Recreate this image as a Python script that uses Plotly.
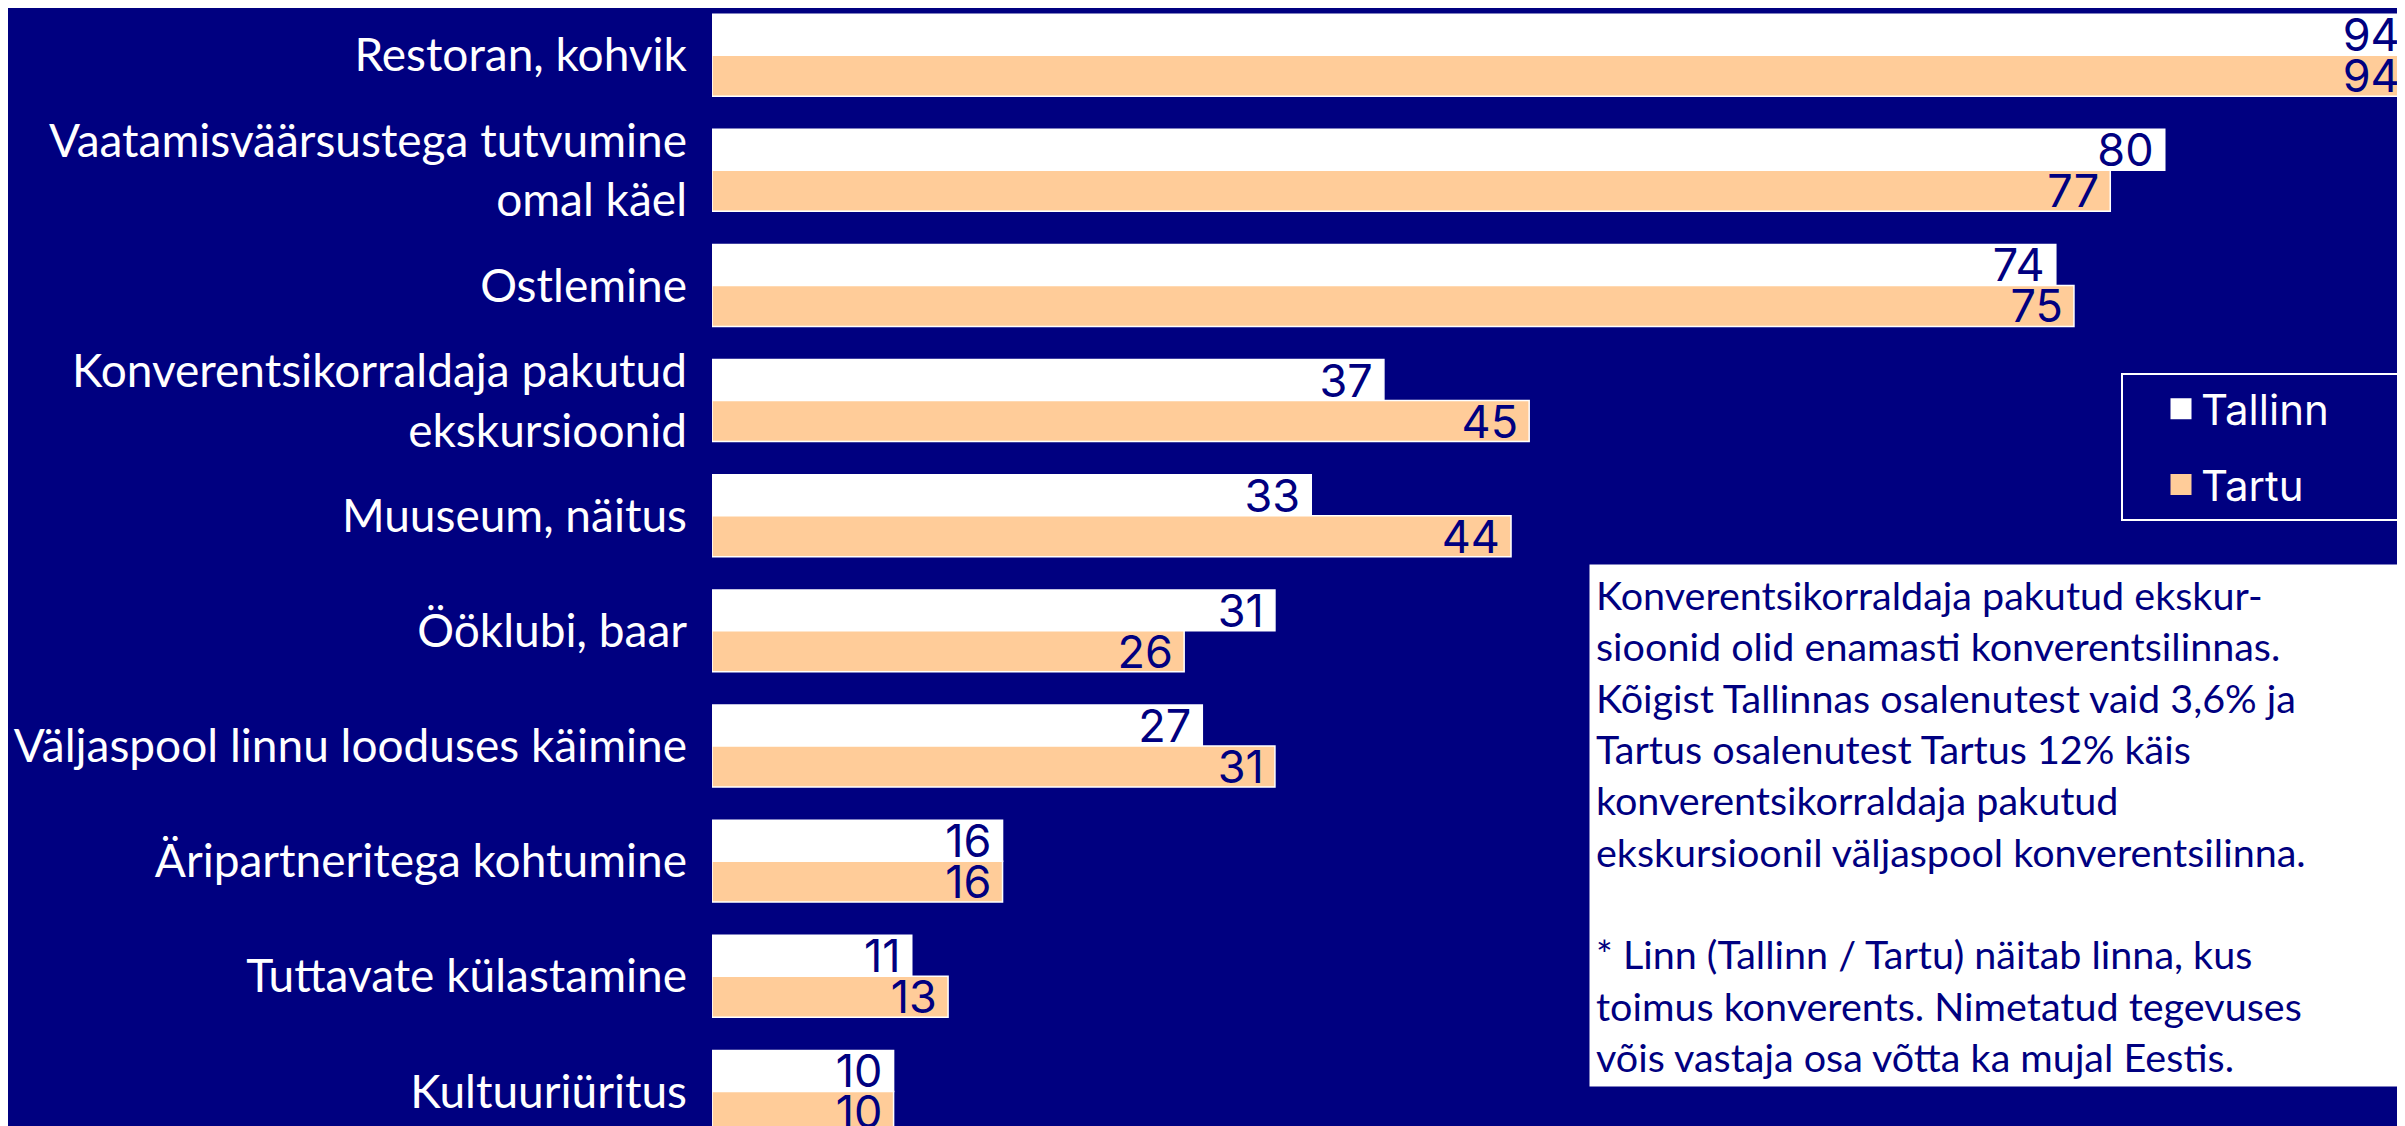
import plotly.graph_objects as go

categories = [
    "Restoran, kohvik",
    "Vaatamisväärsustega tutvumine<br>omal käel",
    "Ostlemine",
    "Konverentsikorraldaja pakutud<br>ekskursioonid",
    "Muuseum, näitus",
    "Ööklubi, baar",
    "Väljaspool linnu looduses käimine",
    "Äripartneritega kohtumine",
    "Tuttavate külastamine",
    "Kultuuriüritus",
]
tallinn = [94, 80, 74, 37, 33, 31, 27, 16, 11, 10]
tartu = [94, 77, 75, 45, 44, 26, 31, 16, 13, 10]

note_lines = [
    "Konverentsikorraldaja pakutud ekskur-",
    "sioonid olid enamasti konverentsilinnas.",
    "Kõigist Tallinnas osalenutest vaid 3,6% ja",
    "Tartus osalenutest Tartus 12% käis",
    "konverentsikorraldaja pakutud",
    "ekskursioonil väljaspool konverentsilinna.",
    "",
    "* Linn (Tallinn / Tartu) näitab linna, kus",
    "toimus konverents. Nimetatud tegevuses",
    "võis vastaja osa võtta ka mujal Eestis.",
]

NAVY = "#000080"
PEACH = "#FFCC99"
XMAX = 93.67
LEFT = 704
LEGEND_PAD = "\u2003\u2002"  # extra room on the right side of the legend box


def labels(vals):
    # bars running past the right edge get a bit more padding so the number stays visible
    return [f"{v}\u2009" if v <= XMAX else f"{v}\u2009\u2009" for v in vals]


fig = go.Figure()
for name, vals, col in [("Tallinn", tallinn, "white"), ("Tartu", tartu, PEACH)]:
    fig.add_trace(go.Bar(
        y=categories, x=vals, name=name, orientation="h",
        marker=dict(color=col, line=dict(color="white", width=1.5)),
        text=labels(vals), textposition="inside", insidetextanchor="end",
        textangle=0, constraintext="none",
        textfont=dict(family="Inter", size=45, color=NAVY),
        showlegend=False,
    ))

# legend entries with bigger square symbols
for i, (name, col) in enumerate([("Tallinn", "white"), ("Tartu", PEACH)]):
    fig.add_trace(go.Scatter(
        x=[None], y=[None], mode="markers", name=name + LEGEND_PAD,
        marker=dict(symbol="square", size=16, color=col, line=dict(color=col, width=5)),
        legendgroup=str(i),
    ))

fig.add_annotation(
    xref="paper", yref="paper", x=(1581 - LEFT) / (2405 - LEFT), y=1 - 556 / 1126,
    xanchor="left", yanchor="top",
    text="<br>".join(note_lines), align="left", showarrow=False,
    font=dict(family="Lato", size=39.5, color=NAVY),
    bgcolor="white", borderpad=6, width=880,
)

fig.update_layout(
    width=2405, height=1126,
    margin=dict(l=LEFT, r=0, t=0, b=0),
    paper_bgcolor=NAVY, plot_bgcolor=NAVY,
    barmode="group", bargap=0.288, bargroupgap=0,
    showlegend=True,
    legend=dict(
        x=(2391 - LEFT) / (2405 - LEFT), y=1 - 365 / 1126, xanchor="right", yanchor="top",
        bgcolor=NAVY, bordercolor="white", borderwidth=2,
        font=dict(family="Inter", size=42, color="white"),
        tracegroupgap=18, indentation=38,
    ),
)
fig.update_xaxes(range=[0, XMAX], visible=False)
fig.update_yaxes(
    range=[9.37, -0.41], type="category",
    showgrid=False, zeroline=False, showline=False,
    tickfont=dict(family="Lato", size=46, color="white"),
    ticklabelstandoff=24,
)

fig.write_html("out.html")
